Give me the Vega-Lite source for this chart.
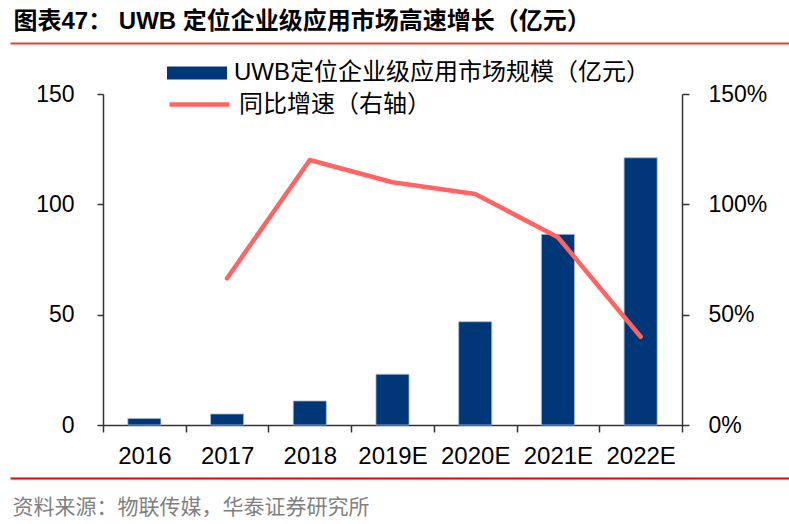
{
  "$schema": "https://vega.github.io/schema/vega-lite/v6.json",
  "background": "white",
  "autosize": {"type": "none"},
  "width": 579,
  "height": 331,
  "padding": {"left": 103, "top": 94, "right": 107, "bottom": 99},
  "config": {
    "font": "Liberation Sans, Noto Sans CJK SC, sans-serif",
    "view": {"stroke": null}
  },
  "layer": [
    {
      "data": {
        "values": [
          {"year": "2016", "size": 3.0, "growth": null},
          {"year": "2017", "size": 5.0, "growth": 0.665},
          {"year": "2018", "size": 10.9, "growth": 1.201},
          {"year": "2019E", "size": 23.0, "growth": 1.1},
          {"year": "2020E", "size": 46.8, "growth": 1.047},
          {"year": "2021E", "size": 86.4, "growth": 0.851},
          {"year": "2022E", "size": 121.1, "growth": 0.4}
        ]
      },
      "encoding": {
        "x": {
          "field": "year",
          "type": "nominal",
          "sort": null,
          "scale": {"paddingInner": 0, "paddingOuter": 0},
          "axis": {
            "title": null,
            "labelAngle": 0,
            "tickBand": "extent",
            "tickSize": 7,
            "tickColor": "#333",
            "tickWidth": 1.5,
            "domainColor": "#333",
            "domainWidth": 1.5,
            "labelFontSize": 24,
            "labelPadding": 12,
            "labelColor": "#000"
          }
        }
      },
      "layer": [
        {
          "mark": {"type": "bar", "width": {"band": 0.4}, "stroke": "#a8bcd8", "strokeWidth": 0.8},
          "encoding": {
            "y": {
              "field": "size",
              "type": "quantitative",
              "scale": {"domain": [0, 150], "nice": false},
              "axis": {
                "orient": "left",
                "values": [0, 50, 100, 150],
                "title": null,
                "grid": false,
                "tickSize": 6,
                "tickColor": "#333",
                "tickWidth": 1.5,
                "domainColor": "#333",
                "domainWidth": 1.5,
                "labelFontSize": 23,
                "labelPadding": 23,
                "labelColor": "#000"
              }
            },
            "fill": {
              "datum": "UWB定位企业级应用市场规模（亿元）",
              "scale": {"range": ["#003778"]},
              "legend": {
                "orient": "none",
                "legendX": 64,
                "legendY": -51,
                "title": null,
                "padding": 0,
                "symbolType": "M-1,-0.22H1V0.22H-1Z",
                "symbolSize": 3600,
                "symbolStrokeWidth": 0,
                "labelFontSize": 24,
                "labelOffset": 7,
                "labelLimit": 600,
                "labelColor": "#000"
              }
            }
          }
        },
        {
          "mark": {"type": "line", "strokeWidth": 4.5, "strokeCap": "round", "strokeJoin": "round"},
          "encoding": {
            "y": {
              "field": "growth",
              "type": "quantitative",
              "scale": {"domain": [0, 1.5], "nice": false},
              "axis": {
                "orient": "right",
                "values": [0, 0.5, 1, 1.5],
                "format": ".0%",
                "title": null,
                "grid": false,
                "tickSize": 7,
                "tickColor": "#333",
                "tickWidth": 1.5,
                "domainColor": "#333",
                "domainWidth": 1.5,
                "labelFontSize": 23,
                "labelPadding": 19,
                "labelColor": "#000"
              }
            },
            "stroke": {
              "datum": "同比增速（右轴）",
              "scale": {"range": ["#fe6464"]},
              "legend": {
                "orient": "none",
                "legendX": 64,
                "legendY": -22,
                "title": null,
                "padding": 0,
                "symbolType": "stroke",
                "symbolSize": 3600,
                "symbolStrokeWidth": 4.5,
                "labelFontSize": 24,
                "labelOffset": 7,
                "labelLimit": 600,
                "labelColor": "#000"
              }
            }
          }
        }
      ],
      "resolve": {"scale": {"y": "independent"}}
    },
    {
      "data": {"values": [{"p": 0}, {"p": 1}]},
      "mark": {"type": "point", "opacity": 0},
      "encoding": {
        "x": {
          "field": "p",
          "type": "quantitative",
          "scale": {"domain": [0, 1], "nice": false, "range": [-93, 686]},
          "axis": {
            "orient": "top",
            "offset": 51,
            "ticks": false,
            "labels": false,
            "grid": false,
            "domainColor": "#e2402f",
            "domainWidth": 2,
            "title": "图表47：  UWB 定位企业级应用市场高速增长（亿元）",
            "titleAnchor": "start",
            "titleAlign": "left",
            "titleBaseline": "alphabetic",
            "titleX": -90,
            "titleY": -15,
            "titleFontSize": 24,
            "titleFontWeight": "bold",
            "titleColor": "#000"
          }
        }
      }
    },
    {
      "data": {"values": [{"q": 0}, {"q": 1}]},
      "mark": {"type": "point", "opacity": 0},
      "encoding": {
        "x": {
          "field": "q",
          "type": "quantitative",
          "scale": {"domain": [0, 1], "nice": false, "range": [-93, 686]},
          "axis": {
            "orient": "bottom",
            "offset": 53,
            "ticks": false,
            "labels": false,
            "grid": false,
            "domainColor": "#f00000",
            "domainWidth": 2,
            "title": "资料来源：物联传媒，华泰证券研究所",
            "titleAnchor": "start",
            "titleAlign": "left",
            "titleBaseline": "alphabetic",
            "titleX": -91,
            "titleY": 35,
            "titleFontSize": 21,
            "titleFontWeight": "normal",
            "titleColor": "#7f7f7f"
          }
        }
      }
    }
  ],
  "resolve": {"scale": {"x": "independent"}}
}
